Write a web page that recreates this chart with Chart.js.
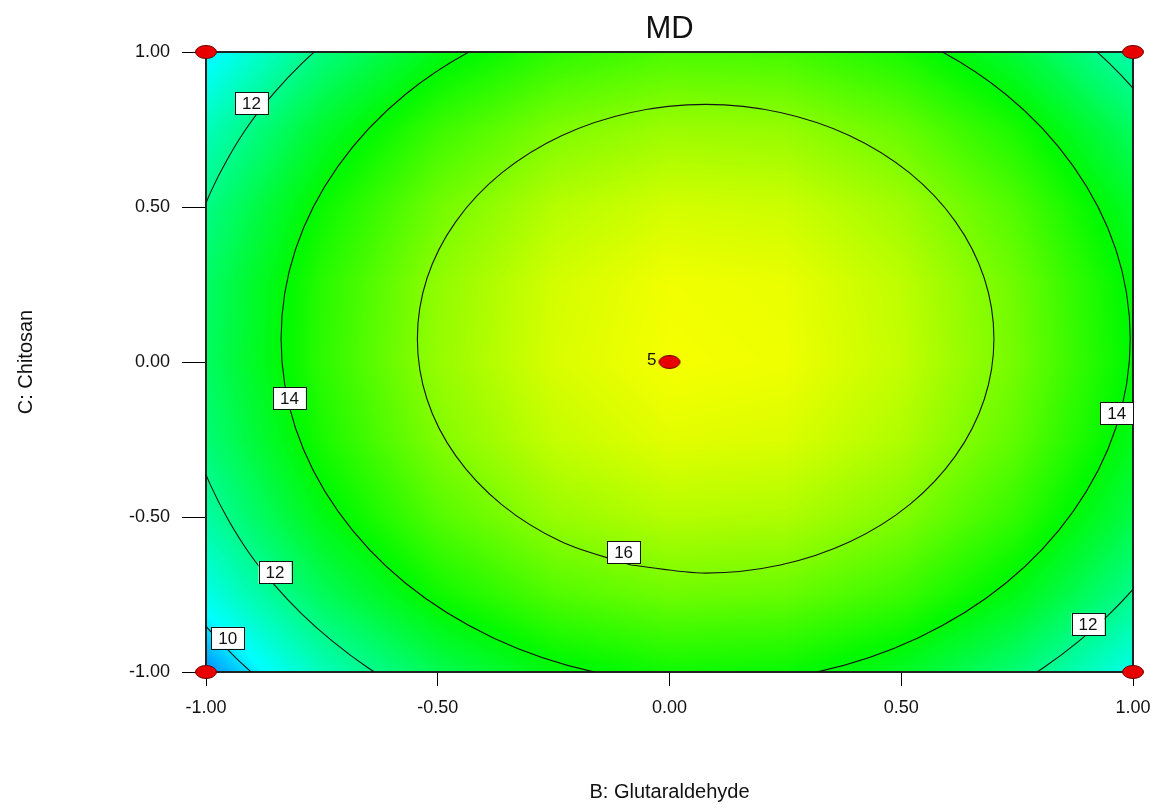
<!DOCTYPE html>
<html>
<head>
<meta charset="utf-8">
<script src="https://cdn.jsdelivr.net/npm/chart.js@4.4.1/dist/chart.umd.min.js"></script>
<style>
  html, body { margin: 0; padding: 0; background: #fff; }
  #wrap { width: 1159px; height: 809px; }
</style>
</head>
<body>
<div id="wrap"><canvas id="mdChart" width="1159" height="809"></canvas></div>
<script>
// coded factor levels shown on both axes
const tickValues = [-1, -0.5, 0, 0.5, 1];

// MD response on a 9x9 grid: columns = B, rows = C (C = -1 first)
const gridB = [-1, -0.75, -0.5, -0.25, 0, 0.25, 0.5, 0.75, 1];
const gridC = [-1, -0.75, -0.5, -0.25, 0, 0.25, 0.5, 0.75, 1];
const mdGrid = [
  [9.12, 11.23, 12.78, 13.78, 14.23, 14.12, 13.47, 12.26, 10.50],
  [10.54, 12.65, 14.20, 15.20, 15.65, 15.54, 14.89, 13.68, 11.92],
  [11.58, 13.69, 15.24, 16.25, 16.69, 16.59, 15.93, 14.73, 12.96],
  [12.26, 14.36, 15.92, 16.92, 17.37, 17.26, 16.61, 15.40, 13.64],
  [12.56, 14.66, 16.22, 17.22, 17.67, 17.56, 16.91, 15.70, 13.94],
  [12.48, 14.59, 16.14, 17.14, 17.59, 17.49, 16.83, 15.62, 13.86],
  [12.03, 14.14, 15.69, 16.69, 17.14, 17.04, 16.38, 15.17, 13.41],
  [11.21, 13.32, 14.87, 15.87, 16.32, 16.22, 15.56, 14.35, 12.59],
  [10.02, 12.12, 13.68, 14.68, 15.13, 15.02, 14.37, 13.16, 11.40]
];

// contour lines, [B, C] pairs
const contour16 = [[-0.083,-0.655],[0.078,-0.681],[0.239,-0.655],[0.389,-0.580],[0.518,-0.460],[0.617,-0.303],[0.679,-0.121],[0.700,0.075],[0.679,0.271],[0.617,0.453],[0.518,0.610],[0.389,0.730],[0.239,0.805],[0.078,0.831],[-0.083,0.805],[-0.233,0.730],[-0.362,0.610],[-0.461,0.453],[-0.523,0.271],[-0.544,0.075],[-0.523,-0.121],[-0.461,-0.303],[-0.362,-0.460],[-0.233,-0.580],[-0.083,-0.655]];
const contour14 = [[0.078,1.189],[-0.159,1.151],[-0.380,1.040],[-0.570,0.863],[-0.715,0.632],[-0.807,0.363],[-0.838,0.075],[-0.807,-0.213],[-0.715,-0.482],[-0.570,-0.713],[-0.380,-0.890],[-0.159,-1.001],[0.078,-1.039],[0.315,-1.001],[0.536,-0.890],[0.726,-0.713],[0.871,-0.482],[0.963,-0.213],[0.994,0.075],[0.963,0.363],[0.871,0.632],[0.726,0.863],[0.536,1.040],[0.315,1.151],[0.078,1.189]];
const contour12TopLeft = [[-0.574,1.207],[-0.653,1.134],[-0.726,1.052],[-0.793,0.963],[-0.853,0.868],[-0.907,0.766],[-0.952,0.659],[-0.990,0.548],[-1.020,0.433]];
const contour12BottomLeft = [[-1.042,-0.165],[-1.020,-0.283],[-0.990,-0.398],[-0.952,-0.509],[-0.907,-0.616],[-0.853,-0.718],[-0.793,-0.813],[-0.726,-0.902],[-0.653,-0.984],[-0.574,-1.057]];
const contour12BottomRight = [[0.647,-1.122],[0.730,-1.057],[0.809,-0.984],[0.882,-0.902],[0.949,-0.813],[1.009,-0.718],[1.063,-0.616]];
const contour12TopRight = [[1.063,0.766],[1.009,0.868],[0.949,0.963],[0.882,1.052],[0.809,1.134]];
const contour10 = [[-1.119,-0.604],[-1.066,-0.728],[-1.004,-0.846],[-0.934,-0.957],[-0.856,-1.061]];

// contour level labels
const labelText = ['12', '14', '12', '10', '16', '14', '12'];
const labelB = [-0.902, -0.820, -0.851, -0.953, -0.099, 0.965, 0.903];
const labelC = [0.835, -0.116, -0.679, -0.890, -0.613, -0.166, -0.845];

// design points and replicate counts
const designB = [-1, 1, -1, 1, 0];
const designC = [1, 1, -1, -1, 0];
const designRuns = ['', '', '', '', '5'];

const FONT = "'Liberation Sans', Arial, sans-serif";

const colourStops = [
  [7.8, [0, 0, 255]],
  [10.2, [0, 255, 255]],
  [14.0, [0, 250, 0]],
  [17.8, [255, 255, 0]],
  [21.0, [255, 0, 0]]
];

function colourFor(v) {
  if (v <= colourStops[0][0]) return colourStops[0][1];
  for (let k = 1; k < colourStops.length; k++) {
    if (v <= colourStops[k][0]) {
      const [v0, c0] = colourStops[k - 1], [v1, c1] = colourStops[k];
      const t = (v - v0) / (v1 - v0);
      return [c0[0] + (c1[0] - c0[0]) * t, c0[1] + (c1[1] - c0[1]) * t, c0[2] + (c1[2] - c0[2]) * t];
    }
  }
  return colourStops[colourStops.length - 1][1];
}

function sampleGrid(b, c) {
  let fi = (b - gridB[0]) / (gridB[1] - gridB[0]);
  let fj = (c - gridC[0]) / (gridC[1] - gridC[0]);
  fi = Math.min(Math.max(fi, 0), gridB.length - 1.0001);
  fj = Math.min(Math.max(fj, 0), gridC.length - 1.0001);
  const i = Math.floor(fi), j = Math.floor(fj), u = fi - i, w = fj - j;
  return mdGrid[j][i] * (1 - u) * (1 - w) + mdGrid[j][i + 1] * u * (1 - w) +
         mdGrid[j + 1][i] * (1 - u) * w + mdGrid[j + 1][i + 1] * u * w;
}

// heat map + plot frame, under the datasets
const heatmap = {
  id: 'heatmap',
  beforeDatasetsDraw(chart) {
    const { ctx, chartArea: a, scales: { x, y } } = chart;
    const w = Math.round(a.right - a.left), h = Math.round(a.bottom - a.top);
    const off = document.createElement('canvas');
    off.width = w; off.height = h;
    const octx = off.getContext('2d');
    const img = octx.createImageData(w, h);
    for (let j = 0; j < h; j++) {
      const c = y.getValueForPixel(a.top + j + 0.5);
      for (let i = 0; i < w; i++) {
        const b = x.getValueForPixel(a.left + i + 0.5);
        const col = colourFor(sampleGrid(b, c));
        const p = (j * w + i) * 4;
        img.data[p] = col[0]; img.data[p + 1] = col[1]; img.data[p + 2] = col[2]; img.data[p + 3] = 255;
      }
    }
    octx.putImageData(img, 0, 0);
    ctx.save();
    ctx.drawImage(off, a.left, a.top);
    ctx.strokeStyle = '#222';
    ctx.lineWidth = 2;
    ctx.strokeRect(a.left, a.top, a.right - a.left, a.bottom - a.top);
    ctx.restore();
  }
};

// contour labels, replicate count, title
const overlay = {
  id: 'overlay',
  afterDatasetsDraw(chart) {
    const { ctx, chartArea: a, scales: { x, y } } = chart;
    ctx.save();
    ctx.font = '17px ' + FONT;
    ctx.textAlign = 'center';
    ctx.textBaseline = 'middle';
    labelText.forEach((t, k) => {
      const px = x.getPixelForValue(labelB[k]), py = y.getPixelForValue(labelC[k]);
      const bw = ctx.measureText(t).width + 14, bh = 22;
      ctx.fillStyle = '#fff';
      ctx.fillRect(px - bw / 2, py - bh / 2, bw, bh);
      ctx.strokeStyle = '#111';
      ctx.lineWidth = 1;
      ctx.strokeRect(Math.round(px - bw / 2) + 0.5, Math.round(py - bh / 2) + 0.5, Math.round(bw), bh);
      ctx.fillStyle = '#111';
      ctx.fillText(t, px, py + 1);
    });
    ctx.textAlign = 'right';
    designRuns.forEach((t, k) => {
      if (!t) return;
      ctx.fillText(t, x.getPixelForValue(designB[k]) - 13, y.getPixelForValue(designC[k]) - 2);
    });
    ctx.font = '31px ' + FONT;
    ctx.textAlign = 'center';
    ctx.textBaseline = 'alphabetic';
    ctx.fillText('MD', (a.left + a.right) / 2, 38);
    ctx.restore();
  }
};

// red oval marker used by Design-Expert for design points
const oval = document.createElement('canvas');
oval.width = 24; oval.height = 16;
const oc = oval.getContext('2d');
oc.beginPath();
oc.ellipse(12, 8, 10.5, 6.5, 0, 0, Math.PI * 2);
oc.fillStyle = '#e80000';
oc.fill();
oc.lineWidth = 1;
oc.strokeStyle = '#6a0000';
oc.stroke();

const toXY = pts => pts.map(p => ({ x: p[0], y: p[1] }));
const contourPaths = [contour16, contour14, contour12TopLeft, contour12BottomLeft, contour12BottomRight, contour12TopRight, contour10];

const datasets = [{
  label: 'Design points',
  data: designB.map((b, k) => ({ x: b, y: designC[k] })),
  pointStyle: oval,
  pointRadius: 10,
  showLine: false,
  clip: false
}].concat(contourPaths.map(path => ({
  data: toXY(path),
  showLine: true,
  pointRadius: 0,
  borderColor: '#151515',
  borderWidth: 1.1,
  tension: 0.33,
  fill: false
})));

const tickFont = { family: FONT, size: 18 };

new Chart(document.getElementById('mdChart'), {
  type: 'scatter',
  data: { datasets },
  plugins: [heatmap, overlay],
  options: {
    responsive: false,
    animation: false,
    layout: { padding: { left: 0, right: 26, top: 52, bottom: 0 } },
    elements: { line: { capBezierPoints: false } },
    plugins: {
      legend: { display: false },
      tooltip: { enabled: false }
    },
    scales: {
      x: {
        type: 'linear',
        min: -1,
        max: 1,
        afterBuildTicks: s => { s.ticks = tickValues.map(v => ({ value: v })); },
        afterFit: s => { s.height = 137; s.paddingLeft = 0; s.paddingRight = 0; },
        border: { display: false },
        grid: { drawOnChartArea: false, drawTicks: true, tickLength: 14, tickColor: '#000', tickWidth: 1 },
        ticks: { padding: 11, color: '#111', font: tickFont, maxRotation: 0, autoSkip: false, callback: v => Number(v).toFixed(2) },
        title: { display: true, text: 'B: Glutaraldehyde', color: '#111', font: { family: FONT, size: 20 }, padding: { top: 0, bottom: 5 } }
      },
      y: {
        type: 'linear',
        min: -1,
        max: 1,
        afterBuildTicks: s => { s.ticks = tickValues.map(v => ({ value: v })); },
        afterFit: s => { s.width = 206; },
        border: { display: false },
        grid: { drawOnChartArea: false, drawTicks: true, tickLength: 24, tickColor: '#000', tickWidth: 1 },
        ticks: { padding: 12, color: '#111', font: tickFont, autoSkip: false, callback: v => Number(v).toFixed(2) },
        title: { display: true, text: 'C: Chitosan', color: '#111', font: { family: FONT, size: 20 }, padding: { top: 14, bottom: 0 } }
      }
    }
  }
});
</script>
</body>
</html>
